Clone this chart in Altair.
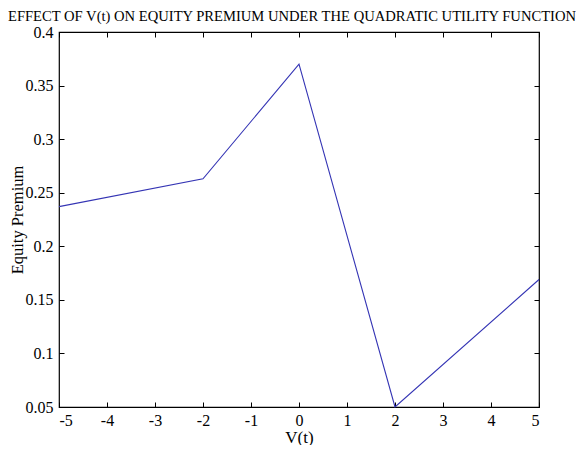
import altair as alt
import pandas as pd

v_t = [-5, -2, 0, 2, 5]
premium = [0.237, 0.263, 0.370, 0.050, 0.169]
x_ticks = [-5, -4, -3, -2, -1, 0, 1, 2, 3, 4, 5]
y_ticks = [0.05, 0.1, 0.15, 0.2, 0.25, 0.3, 0.35, 0.4]

df = pd.DataFrame({"v": v_t, "p": premium})

W, H = 480, 375
FONT = "Liberation Serif, Times New Roman, serif"
LINE = "#3434b4"

xs = alt.Scale(domain=[-5, 5], nice=False, zero=False)
ys = alt.Scale(domain=[0.05, 0.4], nice=False, zero=False)

base = alt.Chart(df)

# main line with labelled axes (bottom / left), no ticks
main = base.mark_line(color=LINE, strokeWidth=1.1).encode(
    x=alt.X("v:Q", scale=xs, title="V(t)",
            axis=alt.Axis(values=x_ticks, ticks=False, domain=False, grid=False,
                          labelPadding=5, labelFont=FONT, labelFontSize=16,
                          titleFont=FONT, titleFontSize=17, titleFontWeight="normal",
                          titlePadding=1, labelExpr="'' + datum.value")),
    y=alt.Y("p:Q", scale=ys, title="Equity Premium",
            axis=alt.Axis(values=y_ticks, ticks=False, domain=False, grid=False,
                          labelPadding=6, labelFont=FONT, labelFontSize=16,
                          titleFont=FONT, titleFontSize=16.5, titleFontWeight="normal",
                          titlePadding=0, labelExpr="'' + datum.value")),
)

# inward ticks on bottom and left edges
ticks_a = base.mark_line(opacity=0).encode(
    x=alt.X("v:Q", scale=xs,
            axis=alt.Axis(orient="top", offset=-H, values=x_ticks, labels=False,
                          title=None, domain=False, grid=False, tickSize=5)),
    y=alt.Y("p:Q", scale=ys,
            axis=alt.Axis(orient="right", offset=-W, values=y_ticks, labels=False,
                          title=None, domain=False, grid=False, tickSize=5)),
)

# inward ticks on top and right edges
ticks_b = base.mark_line(opacity=0).encode(
    x=alt.X("v:Q", scale=xs,
            axis=alt.Axis(orient="bottom", offset=-H, values=x_ticks, labels=False,
                          title=None, domain=False, grid=False, tickSize=5)),
    y=alt.Y("p:Q", scale=ys,
            axis=alt.Axis(orient="left", offset=-W, values=y_ticks, labels=False,
                          title=None, domain=False, grid=False, tickSize=5)),
)

chart = (
    alt.layer(main, ticks_a, ticks_b)
    .resolve_axis(x="independent", y="independent")
    .properties(
        width=W,
        height=H,
        autosize=alt.AutoSizeParams(type="none"),
        padding={"left": 51, "top": 24, "right": 37, "bottom": 38},
        background="white",
        title=alt.TitleParams(
            "EFFECT OF V(t) ON EQUITY PREMIUM UNDER THE QUADRATIC UTILITY FUNCTION",
            font=FONT, fontSize=14.6, fontWeight="normal", color="black",
            anchor="middle", offset=8, dx=-7, dy=8,
        ),
    )
    .configure_view(stroke="black", strokeWidth=1.2)
    .configure_axis(
        labelColor="black", titleColor="black",
        tickColor="black", tickWidth=1,
    )
)

chart.save("out.html", embed_options={"renderer": "svg", "actions": False})
